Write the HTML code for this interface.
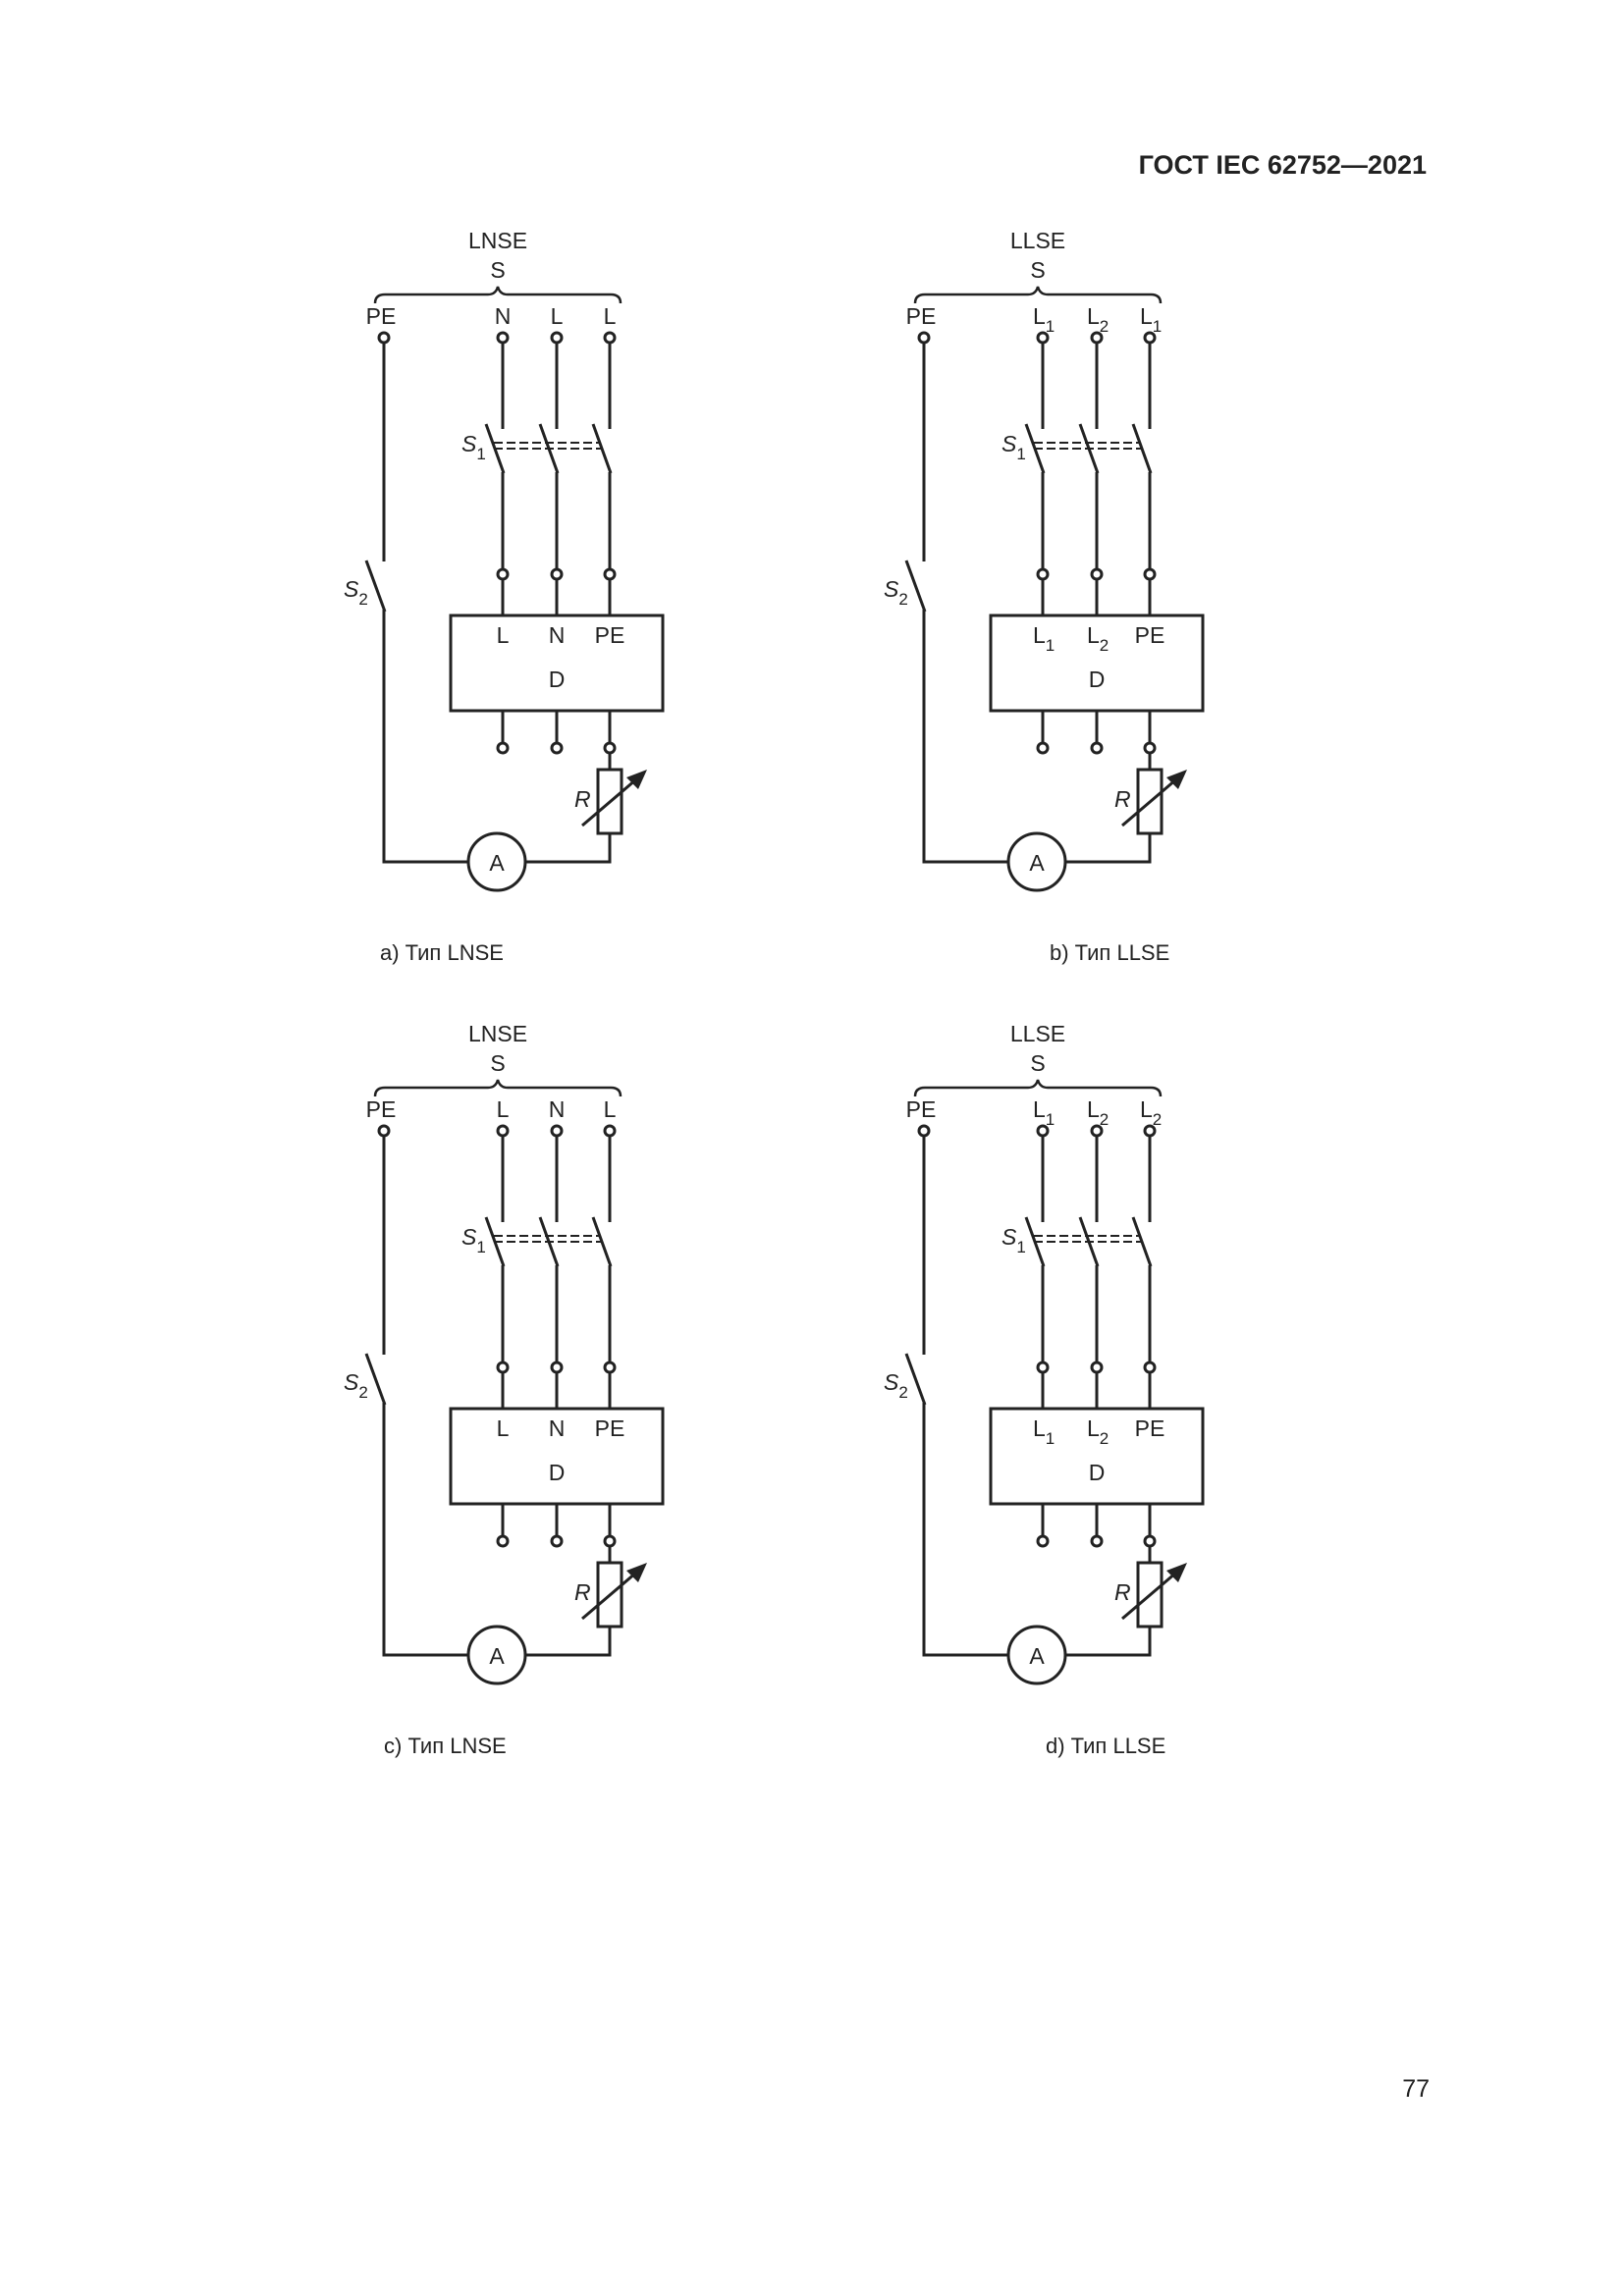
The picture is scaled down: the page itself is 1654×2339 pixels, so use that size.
<!DOCTYPE html>
<html><head><meta charset="utf-8"><style>
html,body{margin:0;padding:0;background:#fff;}
svg{display:block;}
text{font-family:"Liberation Sans","DejaVu Sans",sans-serif;fill:#222;}
</style></head><body>
<svg width="1654" height="2339" viewBox="0 0 1654 2339" xmlns="http://www.w3.org/2000/svg">
<defs>
<g id="circ" stroke="#222" stroke-width="3" fill="none">
  <path d="M382,309 Q382,300 392,300 L497,300 Q505,300 507,292 Q509,300 517,300 L622,300 Q632,300 632,309" stroke-width="2.5"/>
  <line x1="391" y1="349" x2="391" y2="572"/>
  <line x1="373" y1="571" x2="392" y2="623"/>
  <polyline points="391,621 391,878 477,878"/>
  <circle cx="506" cy="878" r="29"/>
  <polyline points="535,878 621,878 621,849"/>
  <line x1="512" y1="349" x2="512" y2="437"/>
  <line x1="567" y1="349" x2="567" y2="437"/>
  <line x1="621" y1="349" x2="621" y2="437"/>
  <line x1="495" y1="432" x2="513" y2="482"/>
  <line x1="550" y1="432" x2="568" y2="482"/>
  <line x1="604" y1="432" x2="622" y2="482"/>
  <line x1="512" y1="481" x2="512" y2="580"/>
  <line x1="567" y1="481" x2="567" y2="580"/>
  <line x1="621" y1="481" x2="621" y2="580"/>
  <line x1="503" y1="451" x2="610" y2="451" stroke-width="2" stroke-dasharray="9,4"/>
  <line x1="503" y1="457" x2="612" y2="457" stroke-width="2" stroke-dasharray="9,4"/>
  <line x1="512" y1="590" x2="512" y2="627"/>
  <line x1="567" y1="590" x2="567" y2="627"/>
  <line x1="621" y1="590" x2="621" y2="627"/>
  <rect x="459" y="627" width="216" height="97"/>
  <line x1="512" y1="724" x2="512" y2="757"/>
  <line x1="567" y1="724" x2="567" y2="757"/>
  <line x1="621" y1="724" x2="621" y2="757"/>
  <line x1="621" y1="767" x2="621" y2="784"/>
  <rect x="609" y="784" width="24" height="65"/>
  <line x1="593" y1="841" x2="648" y2="794"/>
  <polygon points="659,784 638,792 650,804" fill="#222" stroke="none"/>
  <g fill="#fff">
    <circle cx="391" cy="344" r="5"/><circle cx="512" cy="344" r="5"/><circle cx="567" cy="344" r="5"/><circle cx="621" cy="344" r="5"/>
    <circle cx="512" cy="585" r="5"/><circle cx="567" cy="585" r="5"/><circle cx="621" cy="585" r="5"/>
    <circle cx="512" cy="762" r="5"/><circle cx="567" cy="762" r="5"/><circle cx="621" cy="762" r="5"/>
  </g>
</g>
</defs>

<text x="1453" y="177" font-size="27" font-weight="bold" text-anchor="end">ГОСТ IEC 62752—2021</text>
<text x="1456" y="2136" font-size="25" text-anchor="end">77</text>

<!-- a -->
<g>
<use href="#circ"/>
<g font-size="23" text-anchor="middle">
<text x="507" y="253">LNSE</text><text x="507" y="283">S</text>
<text x="388" y="330">PE</text><text x="512" y="330">N</text><text x="567" y="330">L</text><text x="621" y="330">L</text>
<text x="512" y="655">L</text><text x="567" y="655">N</text><text x="621" y="655">PE</text>
<text x="567" y="700">D</text><text x="506" y="887">A</text>
</g>
<text x="470" y="460" font-size="23" font-style="italic">S<tspan font-style="normal" font-size="17" dy="8">1</tspan></text>
<text x="350" y="608" font-size="23" font-style="italic">S<tspan font-style="normal" font-size="17" dy="8">2</tspan></text>
<text x="585" y="822" font-size="23" font-style="italic">R</text>
<text x="387" y="978" font-size="22">a)  Тип LNSE</text>
</g>

<!-- b -->
<g transform="translate(550,0)"><use href="#circ"/></g>
<g>
<g font-size="23" text-anchor="middle">
<text x="1057" y="253">LLSE</text><text x="1057" y="283">S</text>
<text x="938" y="330">PE</text>
<text x="1171" y="655">PE</text>
<text x="1117" y="700">D</text><text x="1056" y="887">A</text>
</g>
<g font-size="23">
<text x="1052" y="330">L<tspan font-size="17" dy="8">1</tspan></text>
<text x="1107" y="330">L<tspan font-size="17" dy="8">2</tspan></text>
<text x="1161" y="330">L<tspan font-size="17" dy="8">1</tspan></text>
<text x="1052" y="655">L<tspan font-size="17" dy="8">1</tspan></text>
<text x="1107" y="655">L<tspan font-size="17" dy="8">2</tspan></text>
</g>
<text x="1020" y="460" font-size="23" font-style="italic">S<tspan font-style="normal" font-size="17" dy="8">1</tspan></text>
<text x="900" y="608" font-size="23" font-style="italic">S<tspan font-style="normal" font-size="17" dy="8">2</tspan></text>
<text x="1135" y="822" font-size="23" font-style="italic">R</text>
<text x="1069" y="978" font-size="22">b) Тип LLSE</text>
</g>

<!-- c -->
<g transform="translate(0,808)">
<use href="#circ"/>
<g font-size="23" text-anchor="middle">
<text x="507" y="253">LNSE</text><text x="507" y="283">S</text>
<text x="388" y="330">PE</text><text x="512" y="330">L</text><text x="567" y="330">N</text><text x="621" y="330">L</text>
<text x="512" y="655">L</text><text x="567" y="655">N</text><text x="621" y="655">PE</text>
<text x="567" y="700">D</text><text x="506" y="887">A</text>
</g>
<text x="470" y="460" font-size="23" font-style="italic">S<tspan font-style="normal" font-size="17" dy="8">1</tspan></text>
<text x="350" y="608" font-size="23" font-style="italic">S<tspan font-style="normal" font-size="17" dy="8">2</tspan></text>
<text x="585" y="822" font-size="23" font-style="italic">R</text>
<text x="391" y="978" font-size="22">c) Тип LNSE</text>
</g>

<!-- d -->
<g transform="translate(0,808)">
<g transform="translate(550,0)"><use href="#circ"/></g>
<g font-size="23" text-anchor="middle">
<text x="1057" y="253">LLSE</text><text x="1057" y="283">S</text>
<text x="938" y="330">PE</text>
<text x="1171" y="655">PE</text>
<text x="1117" y="700">D</text><text x="1056" y="887">A</text>
</g>
<g font-size="23">
<text x="1052" y="330">L<tspan font-size="17" dy="8">1</tspan></text>
<text x="1107" y="330">L<tspan font-size="17" dy="8">2</tspan></text>
<text x="1161" y="330">L<tspan font-size="17" dy="8">2</tspan></text>
<text x="1052" y="655">L<tspan font-size="17" dy="8">1</tspan></text>
<text x="1107" y="655">L<tspan font-size="17" dy="8">2</tspan></text>
</g>
<text x="1020" y="460" font-size="23" font-style="italic">S<tspan font-style="normal" font-size="17" dy="8">1</tspan></text>
<text x="900" y="608" font-size="23" font-style="italic">S<tspan font-style="normal" font-size="17" dy="8">2</tspan></text>
<text x="1135" y="822" font-size="23" font-style="italic">R</text>
<text x="1065" y="978" font-size="22">d)  Тип LLSE</text>
</g>
</svg>
</body></html>
